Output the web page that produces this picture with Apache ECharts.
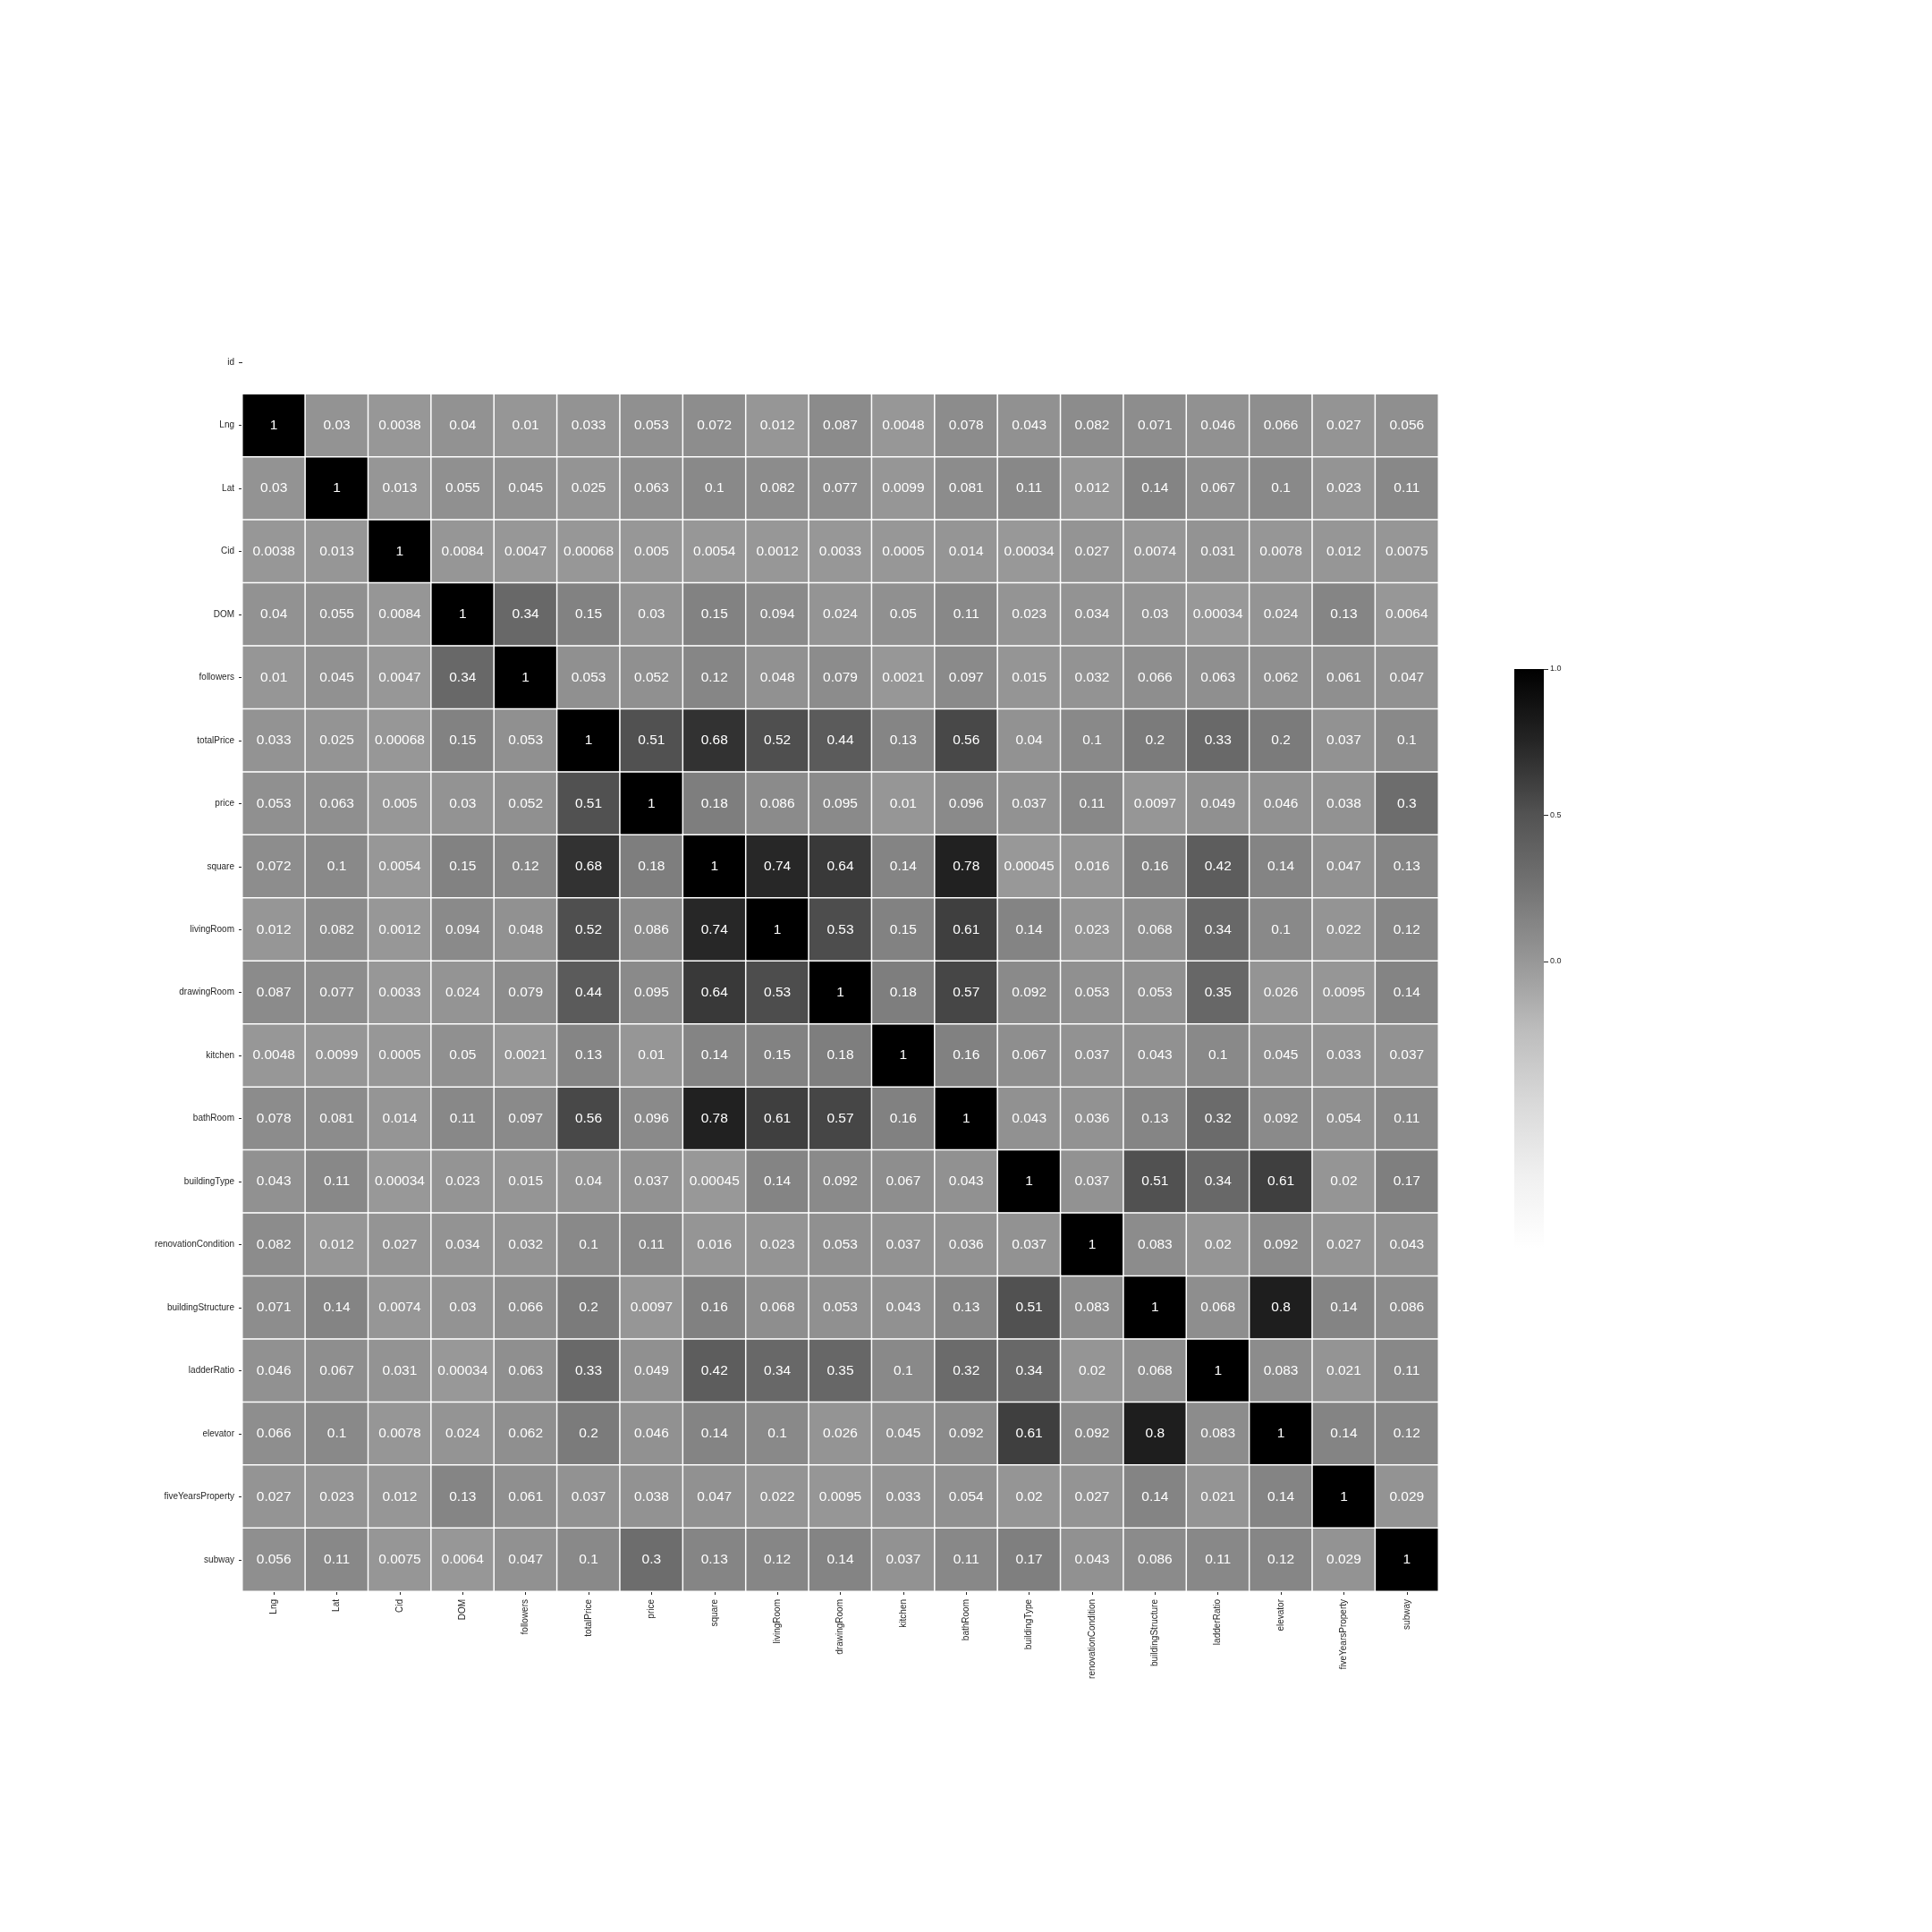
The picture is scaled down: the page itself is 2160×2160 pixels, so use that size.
<!DOCTYPE html>
<html>
<head>
<meta charset="utf-8">
<script src="https://cdn.jsdelivr.net/npm/echarts@6/dist/echarts.min.js"></script>
<style>
html,body{margin:0;padding:0;background:#fff;}
#chart{width:2160px;height:2160px;}
</style>
</head>
<body>
<div id="chart"></div>
<script>
// Column categories (x axis)
const xCategories = ['Lng','Lat','Cid','DOM','followers','totalPrice','price','square','livingRoom','drawingRoom','kitchen','bathRoom','buildingType','renovationCondition','buildingStructure','ladderRatio','elevator','fiveYearsProperty','subway'];
// Row categories (y axis, top to bottom); 'id' row has no values
const yCategories = ['id','Lng','Lat','Cid','DOM','followers','totalPrice','price','square','livingRoom','drawingRoom','kitchen','bathRoom','buildingType','renovationCondition','buildingStructure','ladderRatio','elevator','fiveYearsProperty','subway'];

// Correlation rows (annotated values), one per row category
const rowLng = [1,0.03,0.0038,0.04,0.01,0.033,0.053,0.072,0.012,0.087,0.0048,0.078,0.043,0.082,0.071,0.046,0.066,0.027,0.056];
const rowLat = [0.03,1,0.013,0.055,0.045,0.025,0.063,0.1,0.082,0.077,0.0099,0.081,0.11,0.012,0.14,0.067,0.1,0.023,0.11];
const rowCid = [0.0038,0.013,1,0.0084,0.0047,0.00068,0.005,0.0054,0.0012,0.0033,0.0005,0.014,0.00034,0.027,0.0074,0.031,0.0078,0.012,0.0075];
const rowDOM = [0.04,0.055,0.0084,1,0.34,0.15,0.03,0.15,0.094,0.024,0.05,0.11,0.023,0.034,0.03,0.00034,0.024,0.13,0.0064];
const rowFollowers = [0.01,0.045,0.0047,0.34,1,0.053,0.052,0.12,0.048,0.079,0.0021,0.097,0.015,0.032,0.066,0.063,0.062,0.061,0.047];
const rowTotalPrice = [0.033,0.025,0.00068,0.15,0.053,1,0.51,0.68,0.52,0.44,0.13,0.56,0.04,0.1,0.2,0.33,0.2,0.037,0.1];
const rowPrice = [0.053,0.063,0.005,0.03,0.052,0.51,1,0.18,0.086,0.095,0.01,0.096,0.037,0.11,0.0097,0.049,0.046,0.038,0.3];
const rowSquare = [0.072,0.1,0.0054,0.15,0.12,0.68,0.18,1,0.74,0.64,0.14,0.78,0.00045,0.016,0.16,0.42,0.14,0.047,0.13];
const rowLivingRoom = [0.012,0.082,0.0012,0.094,0.048,0.52,0.086,0.74,1,0.53,0.15,0.61,0.14,0.023,0.068,0.34,0.1,0.022,0.12];
const rowDrawingRoom = [0.087,0.077,0.0033,0.024,0.079,0.44,0.095,0.64,0.53,1,0.18,0.57,0.092,0.053,0.053,0.35,0.026,0.0095,0.14];
const rowKitchen = [0.0048,0.0099,0.0005,0.05,0.0021,0.13,0.01,0.14,0.15,0.18,1,0.16,0.067,0.037,0.043,0.1,0.045,0.033,0.037];
const rowBathRoom = [0.078,0.081,0.014,0.11,0.097,0.56,0.096,0.78,0.61,0.57,0.16,1,0.043,0.036,0.13,0.32,0.092,0.054,0.11];
const rowBuildingType = [0.043,0.11,0.00034,0.023,0.015,0.04,0.037,0.00045,0.14,0.092,0.067,0.043,1,0.037,0.51,0.34,0.61,0.02,0.17];
const rowRenovationCondition = [0.082,0.012,0.027,0.034,0.032,0.1,0.11,0.016,0.023,0.053,0.037,0.036,0.037,1,0.083,0.02,0.092,0.027,0.043];
const rowBuildingStructure = [0.071,0.14,0.0074,0.03,0.066,0.2,0.0097,0.16,0.068,0.053,0.043,0.13,0.51,0.083,1,0.068,0.8,0.14,0.086];
const rowLadderRatio = [0.046,0.067,0.031,0.00034,0.063,0.33,0.049,0.42,0.34,0.35,0.1,0.32,0.34,0.02,0.068,1,0.083,0.021,0.11];
const rowElevator = [0.066,0.1,0.0078,0.024,0.062,0.2,0.046,0.14,0.1,0.026,0.045,0.092,0.61,0.092,0.8,0.083,1,0.14,0.12];
const rowFiveYearsProperty = [0.027,0.023,0.012,0.13,0.061,0.037,0.038,0.047,0.022,0.0095,0.033,0.054,0.02,0.027,0.14,0.021,0.14,1,0.029];
const rowSubway = [0.056,0.11,0.0075,0.0064,0.047,0.1,0.3,0.13,0.12,0.14,0.037,0.11,0.17,0.043,0.086,0.11,0.12,0.029,1];

// Colour bar tick labels and scale range
const colorbarTicks = [0.0, 0.5, 1.0];
const scaleMin = -0.98;
const scaleMax = 1;

const rows = [null,rowLng,rowLat,rowCid,rowDOM,rowFollowers,rowTotalPrice,rowPrice,rowSquare,rowLivingRoom,rowDrawingRoom,rowKitchen,rowBathRoom,rowBuildingType,rowRenovationCondition,rowBuildingStructure,rowLadderRatio,rowElevator,rowFiveYearsProperty,rowSubway];

const greys = ['#ffffff','#f0f0f0','#d9d9d9','#bdbdbd','#969696','#737373','#525252','#252525','#000000'];

const heatData = [];
rows.forEach((r, yi) => {
  if (!r) return;
  r.forEach((v, xi) => heatData.push([xi, yi, v]));
});

const textColor = '#262626';
const fontFamily = "'Liberation Sans', Arial, sans-serif";

const chart = echarts.init(document.getElementById('chart'), null, {renderer: 'canvas'});

const option = {
  backgroundColor: '#ffffff',
  animation: false,
  textStyle: {fontFamily: fontFamily},
  grid: [
    {left: 271, top: 370, width: 1337, height: 1409, containLabel: false},
    {left: 1693, top: 748, width: 33, height: 327, containLabel: false}
  ],
  xAxis: [
    {
      type: 'category', gridIndex: 0, data: xCategories, position: 'bottom',
      axisLine: {show: false},
      axisTick: {show: true, alignWithLabel: true, length: 4, lineStyle: {color: textColor, width: 1}},
      axisLabel: {rotate: 90, fontSize: 10, color: textColor, margin: 9, fontFamily: fontFamily, interval: 0},
      splitLine: {show: false}
    },
    {type: 'category', gridIndex: 1, data: ['cb'], show: false}
  ],
  yAxis: [
    {
      type: 'category', gridIndex: 0, data: yCategories, inverse: true,
      axisLine: {show: false},
      axisTick: {show: true, alignWithLabel: true, length: 4, lineStyle: {color: textColor, width: 1}},
      axisLabel: {fontSize: 10, color: textColor, margin: 9, fontFamily: fontFamily, interval: 0},
      splitLine: {show: false}
    },
    {
      type: 'value', gridIndex: 1, position: 'right', min: colorbarTicks[0], max: colorbarTicks[2], interval: 0.5,
      axisLine: {show: false},
      axisTick: {show: true, length: 5, lineStyle: {color: textColor, width: 1}},
      axisLabel: {fontSize: 9, color: textColor, margin: 7, fontFamily: fontFamily,
        formatter: v => Number(v).toFixed(1)},
      splitLine: {show: false}
    }
  ],
  visualMap: {
    type: 'continuous', show: false, min: scaleMin, max: scaleMax, seriesIndex: 0,
    inRange: {color: greys}
  },
  series: [
    {
      type: 'heatmap', xAxisIndex: 0, yAxisIndex: 0, data: heatData,
      itemStyle: {borderColor: '#ffffff', borderWidth: 1.5},
      label: {
        show: true, color: '#ffffff', fontSize: 15.5, fontFamily: fontFamily,
        formatter: p => String(p.value[2])
      },
      emphasis: {disabled: true}
    },
    {
      type: 'custom', xAxisIndex: 1, yAxisIndex: 1, clip: false, silent: true,
      data: [[0, scaleMin, scaleMax]],
      renderItem: function (params, api) {
        const top = api.coord([0, api.value(2)]);
        const bot = api.coord([0, api.value(1)]);
        const w = api.size([1, 0])[0];
        const stops = greys.slice().reverse().map((c, i) => ({offset: i / (greys.length - 1), color: c}));
        return {
          type: 'rect',
          shape: {x: top[0] - w / 2, y: top[1], width: w, height: bot[1] - top[1]},
          style: {fill: new echarts.graphic.LinearGradient(0, 0, 0, 1, stops)}
        };
      }
    }
  ]
};

chart.setOption(option);
</script>
</body>
</html>
